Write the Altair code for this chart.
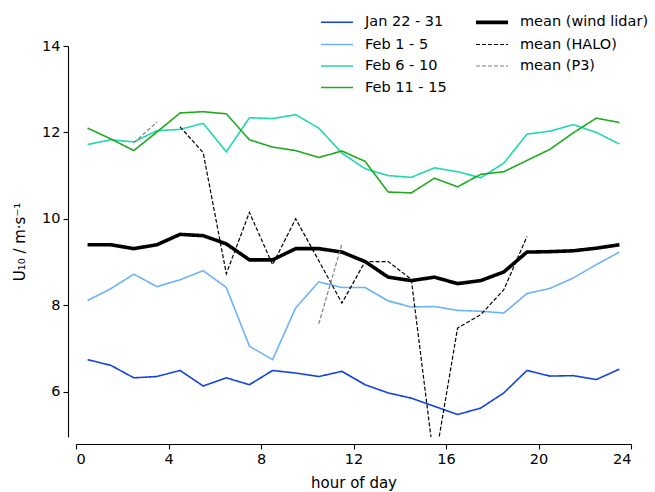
import altair as alt
import pandas as pd

hours = [0.5, 1.5, 2.5, 3.5, 4.5, 5.5, 6.5, 7.5, 8.5, 9.5, 10.5, 11.5,
         12.5, 13.5, 14.5, 15.5, 16.5, 17.5, 18.5, 19.5, 20.5, 21.5, 22.5, 23.5]

jan_22_31 = [6.74, 6.61, 6.32, 6.35, 6.49, 6.13, 6.32, 6.16, 6.49, 6.43, 6.35, 6.47,
             6.16, 5.97, 5.85, 5.66, 5.47, 5.62, 5.97, 6.49, 6.36, 6.37, 6.28, 6.52]
feb_1_5 = [8.11, 8.38, 8.72, 8.43, 8.59, 8.80, 8.41, 7.05, 6.74, 7.94, 8.54, 8.41,
           8.41, 8.10, 7.96, 7.97, 7.88, 7.86, 7.82, 8.27, 8.39, 8.63, 8.94, 9.23]
feb_6_10 = [11.72, 11.83, 11.78, 12.04, 12.07, 12.21, 11.55, 12.34, 12.32, 12.41, 12.10, 11.52,
            11.16, 11.00, 10.96, 11.18, 11.09, 10.95, 11.29, 11.96, 12.03, 12.18, 12.00, 11.73]
feb_11_15 = [12.10, 11.85, 11.58, 12.01, 12.45, 12.48, 12.43, 11.83, 11.66, 11.58, 11.42, 11.57,
             11.33, 10.62, 10.60, 10.94, 10.74, 11.03, 11.09, 11.35, 11.61, 11.99, 12.33, 12.23]
mean_lidar = [9.40, 9.40, 9.31, 9.40, 9.64, 9.61, 9.42, 9.05, 9.05, 9.31, 9.31, 9.23,
              9.01, 8.65, 8.57, 8.65, 8.50, 8.57, 8.77, 9.23, 9.24, 9.26, 9.32, 9.40]
mean_halo = [None, None, None, None, 12.13, 11.53, 8.73, 10.15, 8.94, 10.00, 9.03, 8.05,
             9.01, 9.01, 8.60, 4.30, 7.47, 7.78, 8.36, 9.59, None, None, None, None]
mean_p3 = [None, None, 11.76, 12.24, None, None, None, None, None, None, 7.57, 9.42,
           None, None, None, None, None, None, None, None, None, None, None, None]

series = {
    "Jan 22 - 31": jan_22_31,
    "Feb 1 - 5": feb_1_5,
    "Feb 6 - 10": feb_6_10,
    "Feb 11 - 15": feb_11_15,
    "mean (wind lidar)": mean_lidar,
    "mean (HALO)": mean_halo,
    "mean (P3)": mean_p3,
}

legend_order = ["Jan 22 - 31", "Feb 1 - 5", "Feb 6 - 10", "Feb 11 - 15",
                "mean (wind lidar)", "mean (HALO)", "mean (P3)"]
colors = ["#1342e0", "#6cb2fa", "#1fd8b0", "#1faa1f", "#000000", "#000000", "#808080"]
dashes = [[1, 0], [1, 0], [1, 0], [1, 0], [1, 0], [4, 2], [4, 2]]
widths = [1.6, 1.6, 1.6, 1.6, 3.6, 1.2, 1.2]

rows = []
for name, vals in series.items():
    seg = 0
    prev_none = False
    for h, v in zip(hours, vals):
        if v is None:
            prev_none = True
            continue
        if prev_none:
            seg += 1
            prev_none = False
        rows.append({"hour": h, "value": v, "series": name, "seg": f"{name}-{seg}"})
df = pd.DataFrame(rows)

FONT = "DejaVu Sans"

chart = alt.Chart(df).mark_line(clip=True).encode(
    x=alt.X("hour:Q", scale=alt.Scale(domain=[0, 24], nice=False),
            axis=alt.Axis(values=[0, 4, 8, 12, 16, 20, 24], title="hour of day",
                          offset=7, grid=False, titlePadding=10)),
    y=alt.Y("value:Q", scale=alt.Scale(domain=[4.95, 14], nice=False, zero=False),
            axis=alt.Axis(values=[6, 8, 10, 12, 14], title="U₁₀  /  m·s⁻¹",
                          offset=8, grid=False, titlePadding=14)),
    color=alt.Color("series:N", scale=alt.Scale(domain=legend_order, range=colors),
                    legend=alt.Legend(title=None, orient="none", legendX=251, legendY=-34,
                                      columns=2, columnPadding=21, rowPadding=5.5,
                                      symbolType="M-2,0H2", symbolSize=256,
                                      labelOffset=18, padding=0,
                                      labelFont=FONT, labelFontSize=14.5,
                                      labelColor="#000000")),
    strokeDash=alt.StrokeDash("series:N", scale=alt.Scale(domain=legend_order, range=dashes)),
    strokeWidth=alt.StrokeWidth("series:N",
                                scale=alt.Scale(type="ordinal", domain=legend_order, range=widths)),
    detail="seg:N",
    order=alt.Order("hour:Q"),
).properties(
    width=555, height=391,
    autosize=alt.AutoSizeParams(type="none"),
    padding={"left": 76, "top": 46, "right": 24, "bottom": 55},
).configure_view(stroke=None).configure_axis(
    labelFont=FONT, labelFontSize=14.5, labelColor="#000000",
    titleFont=FONT, titleFontSize=15, titleFontWeight="normal", titleColor="#000000",
    domainColor="#000000", domainWidth=1.1, tickColor="#000000", tickSize=5, tickWidth=1.1,
    labelPadding=3,
)

chart.save("out.html", embed_options={"renderer": "svg", "actions": False})
